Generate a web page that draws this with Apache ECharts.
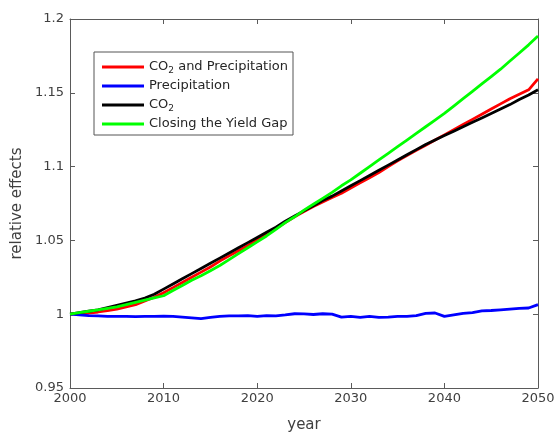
<!DOCTYPE html>
<html>
<head>
<meta charset="utf-8">
<script src="https://cdn.jsdelivr.net/npm/echarts@6/dist/echarts.min.js"></script>
<style>html,body{margin:0;padding:0;background:#fff}#c{width:558px;height:434px}</style>
</head>
<body>
<div id="c"></div>
<script>
const years = [];
for (let y = 2000; y <= 2050; y++) years.push(y);

const co2Precip = [1.000,1.0003,1.0008,1.0015,1.0025,1.0035,1.005,1.0065,1.009,1.0115,
  1.0145,1.018,1.0215,1.025,1.0285,1.032,1.036,1.0395,1.043,1.0465,
  1.0505,1.054,1.058,1.062,1.066,1.0695,1.073,1.076,1.079,1.082,
  1.0855,1.089,1.0925,1.096,1.100,1.104,1.1075,1.111,1.1145,1.118,
  1.1215,1.125,1.1285,1.132,1.1355,1.139,1.1425,1.146,1.149,1.152,1.1594];

const precip = [1.000,0.9995,0.999,0.9988,0.9985,0.9985,0.9985,0.9983,0.9985,0.9985,
  0.9987,0.9985,0.998,0.9975,0.997,0.9978,0.9985,0.9988,0.9988,0.999,
  0.9985,0.999,0.9988,0.9995,1.0003,1.0002,0.9998,1.0003,1.000,0.998,
  0.9985,0.9978,0.9985,0.9978,0.998,0.9985,0.9985,0.999,1.0005,1.0008,
  0.9985,0.9995,1.0005,1.001,1.0022,1.0025,1.003,1.0035,1.004,1.0042,1.0065];

const co2 = [1.000,1.001,1.002,1.003,1.0045,1.006,1.0075,1.009,1.011,1.0135,
  1.017,1.0205,1.024,1.0275,1.031,1.0345,1.038,1.0415,1.045,1.0485,
  1.052,1.0555,1.059,1.063,1.0665,1.070,1.0735,1.077,1.080,1.0835,
  1.087,1.0905,1.094,1.0975,1.101,1.1045,1.108,1.1115,1.115,1.118,
  1.121,1.124,1.127,1.130,1.133,1.136,1.139,1.142,1.1455,1.1485,1.152];

const yieldGap = [1.000,1.001,1.002,1.003,1.004,1.005,1.0065,1.008,1.0095,1.011,
  1.0125,1.016,1.0195,1.023,1.026,1.0295,1.033,1.037,1.041,1.045,
  1.049,1.053,1.0575,1.062,1.066,1.0705,1.0745,1.0785,1.0825,1.087,
  1.091,1.0955,1.100,1.1045,1.109,1.1135,1.118,1.1225,1.127,1.1315,
  1.136,1.141,1.146,1.151,1.156,1.161,1.166,1.1715,1.177,1.1825,1.1885];

const seriesNames = ['CO2 and Precipitation','Precipitation','CO2','Closing the Yield Gap'];
const seriesColors = ['#ff0000','#0000ff','#000000','#00ff00'];
const seriesData = [co2Precip, precip, co2, yieldGap];

const textColor = '#404040';
const axisColor = '#5a5a5a';
const font = 'DejaVu Sans';

const chart = echarts.init(document.getElementById('c'), null, {renderer:'canvas'});

function axisBase(extra){
  return Object.assign({
    axisLine:{show:true, onZero:false, lineStyle:{color:axisColor, width:1}},
    axisTick:{show:true, inside:true, length:5, lineStyle:{color:axisColor}},
    splitLine:{show:false}
  }, extra);
}

const option = {
  animation:false,
  backgroundColor:'#fff',
  grid:{left:70, right:20, top:19, bottom:46, containLabel:false, outerBoundsMode:'none'},
  legend:{
    orient:'vertical', left:94, top:52,
    data: seriesNames,
    icon:'rect', itemWidth:42, itemHeight:3, itemGap:3,
    padding:[7,5,3,8],
    borderColor:'#555', borderWidth:1, backgroundColor:'#fff',
    textStyle:{
      fontFamily:font, fontSize:13, color:'#262626', lineHeight:16,
      rich:{
        n:{fontFamily:font, fontSize:13, color:'#262626', lineHeight:16},
        s:{fontFamily:font, fontSize:9, color:'#262626', lineHeight:7, verticalAlign:'bottom'}
      }
    },
    formatter:function(name){
      if (name.indexOf('CO2') === 0) {
        return '{n|CO}{s|2}{n|' + name.slice(3) + '}';
      }
      return '{n|' + name + '}';
    }
  },
  xAxis:[
    axisBase({type:'value', min:2000, max:2050, interval:10, position:'bottom',
      name:'year', nameLocation:'middle', nameGap:30,
      nameTextStyle:{fontFamily:font, fontSize:15, color:textColor},
      axisLabel:{fontFamily:font, fontSize:13, color:textColor, margin:4,
        formatter:function(v){return String(v);}}}),
    axisBase({type:'value', min:2000, max:2050, interval:10, position:'top',
      axisLabel:{show:false}})
  ],
  yAxis:[
    axisBase({type:'value', min:0.95, max:1.2, interval:0.05, position:'left',
      name:'relative effects', nameLocation:'middle', nameGap:38,
      nameTextStyle:{fontFamily:font, fontSize:15, color:textColor},
      axisLabel:{fontFamily:font, fontSize:13, color:textColor, margin:6,
        formatter:function(v){return String(Math.round(v*100)/100);}}}),
    axisBase({type:'value', min:0.95, max:1.2, interval:0.05, position:'right',
      axisLabel:{show:false}})
  ],
  series: seriesNames.map(function(n,i){
    return {
      name:n, type:'line', xAxisIndex:0, yAxisIndex:0,
      data: years.map(function(y,j){return [y, seriesData[i][j]];}),
      showSymbol:false, symbol:'none',
      lineStyle:{color:seriesColors[i], width:2.8},
      itemStyle:{color:seriesColors[i]},
      z:2+i
    };
  })
};
chart.setOption(option);
</script>
</body>
</html>
